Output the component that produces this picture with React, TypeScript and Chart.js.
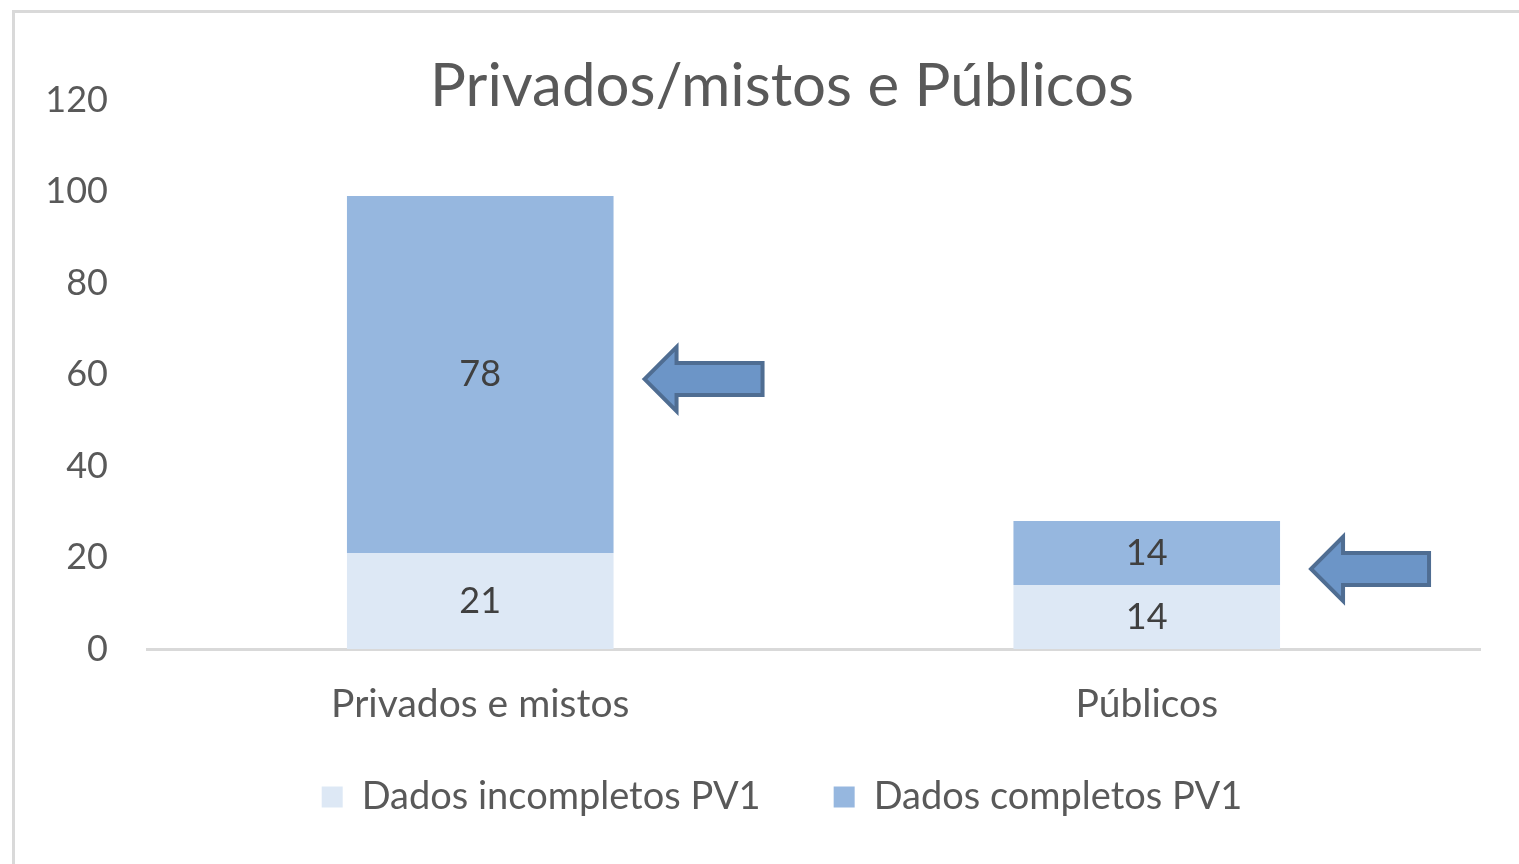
import React, { useEffect, useRef } from "react";
import { Chart, registerables } from "chart.js";

Chart.register(...registerables);

const titleText = "Privados/mistos e Públicos";
const categories = ["Privados e mistos", "Públicos"];
const seriesNames = ["Dados incompletos PV1", "Dados completos PV1"];
const incompletos = [21, 14];
const completos = [78, 14];
const yTickValues = [0, 20, 40, 60, 80, 100, 120];
const arrowValues = [59, 17.5];

const FONT = "Lato, 'Noto Sans', sans-serif";
const TEXT = "#595959";
const LIGHT = "#DDE8F5";
const MID = "#96B7DF";

const CANVAS_W = 1564;
const CANVAS_H = 864;

const dataLabelPlugin = {
  id: "dataLabelsCustom",
  afterDatasetsDraw(chart: any) {
    const ctx = chart.ctx;
    ctx.save();
    ctx.font = `36px ${FONT}`;
    ctx.fillStyle = "#404040";
    ctx.textAlign = "center";
    ctx.textBaseline = "middle";
    chart.data.datasets.forEach((ds: any, di: number) => {
      const meta = chart.getDatasetMeta(di);
      meta.data.forEach((el: any, i: number) => {
        const y = (el.y + el.base) / 2;
        ctx.fillText(String(ds.data[i]), el.x, y);
      });
    });
    ctx.restore();
  },
};

const arrowPlugin = {
  id: "arrows",
  afterDatasetsDraw(chart: any) {
    const ctx = chart.ctx;
    const meta = chart.getDatasetMeta(1);
    const yScale = chart.scales.y;
    ctx.save();
    meta.data.forEach((el: any, i: number) => {
      const tipX = el.x + el.width / 2 + 31;
      const tipY = yScale.getPixelForValue(arrowValues[i]);
      const headLen = 32;
      const headHalf = 32;
      const shaftHalf = 16;
      const len = 118;
      ctx.beginPath();
      ctx.moveTo(tipX, tipY);
      ctx.lineTo(tipX + headLen, tipY - headHalf);
      ctx.lineTo(tipX + headLen, tipY - shaftHalf);
      ctx.lineTo(tipX + len, tipY - shaftHalf);
      ctx.lineTo(tipX + len, tipY + shaftHalf);
      ctx.lineTo(tipX + headLen, tipY + shaftHalf);
      ctx.lineTo(tipX + headLen, tipY + headHalf);
      ctx.closePath();
      ctx.fillStyle = "#6C95C7";
      ctx.fill();
      ctx.lineWidth = 4;
      ctx.strokeStyle = "#4F6D92";
      ctx.lineJoin = "miter";
      ctx.stroke();
    });
    ctx.restore();
  },
};

// Pull the legend up closer to the axis labels (Excel-like spacing)
const legendShiftPlugin = {
  id: "legendShift",
  afterLayout(chart: any) {
    const lg = chart.legend;
    if (!lg) return;
    const newTop = chart.chartArea.bottom + 56;
    const h = lg.height;
    lg.top = newTop;
    lg.bottom = newTop + h;
  },
};

export default function App() {
  const ref = useRef<HTMLCanvasElement | null>(null);

  useEffect(() => {
    if (!ref.current) return;
    const chart = new Chart(ref.current, {
      type: "bar",
      data: {
        labels: categories,
        datasets: [
          {
            label: seriesNames[0],
            data: incompletos,
            backgroundColor: LIGHT,
            borderWidth: 0,
            categoryPercentage: 1,
            barPercentage: 0.4,
          },
          {
            label: seriesNames[1],
            data: completos,
            backgroundColor: MID,
            borderWidth: 0,
            categoryPercentage: 1,
            barPercentage: 0.4,
          },
        ],
      },
      options: {
        responsive: false,
        animation: false,
        layout: { padding: { left: 0, right: 0, top: 0, bottom: 4 } },
        scales: {
          x: {
            stacked: true,
            afterFit: (s: any) => {
              s.height = 90;
            },
            grid: { display: false, drawTicks: false },
            border: { display: true, color: "#D9D9D9", width: 3 },
            ticks: { color: TEXT, font: { family: FONT, size: 39 }, padding: 31.6 },
          },
          y: {
            stacked: true,
            min: 0,
            max: 120,
            afterFit: (s: any) => {
              s.width = 147;
            },
            afterBuildTicks: (s: any) => {
              s.ticks = yTickValues.map((v) => ({ value: v }));
            },
            grid: { display: false, drawTicks: false },
            border: { display: false },
            ticks: { color: TEXT, font: { family: FONT, size: 36 }, padding: 39 },
          },
          spacer: {
            type: "linear",
            position: "right",
            display: true,
            afterFit: (s: any) => {
              s.width = CANVAS_W - 1480;
            },
            grid: { display: false, drawTicks: false },
            border: { display: false },
            ticks: { display: false },
          },
        },
        plugins: {
          title: {
            display: true,
            text: titleText,
            color: TEXT,
            font: { family: FONT, size: 60, weight: "normal", lineHeight: 0.5 },
            padding: { top: 72, bottom: -2 },
          },
          legend: {
            position: "bottom",
            labels: {
              color: TEXT,
              font: { family: FONT, size: 38 },
              boxWidth: 21,
              boxHeight: 21,
              padding: 73,
            },
          },
          tooltip: { enabled: false },
        },
      },
      plugins: [dataLabelPlugin, arrowPlugin, legendShiftPlugin],
    });
    return () => chart.destroy();
  }, []);

  return (
    <div style={{ position: "absolute", left: 0, top: 0, width: 1519, height: 864, overflow: "hidden", background: "#fff" }}>
      <div
        style={{
          position: "absolute",
          left: 12,
          top: 10,
          width: 2000,
          height: 2000,
          border: "3px solid #D9D9D9",
        }}
      />
      <canvas ref={ref} width={CANVAS_W} height={CANVAS_H} style={{ position: "absolute", left: 0, top: 0 }} />
    </div>
  );
}
